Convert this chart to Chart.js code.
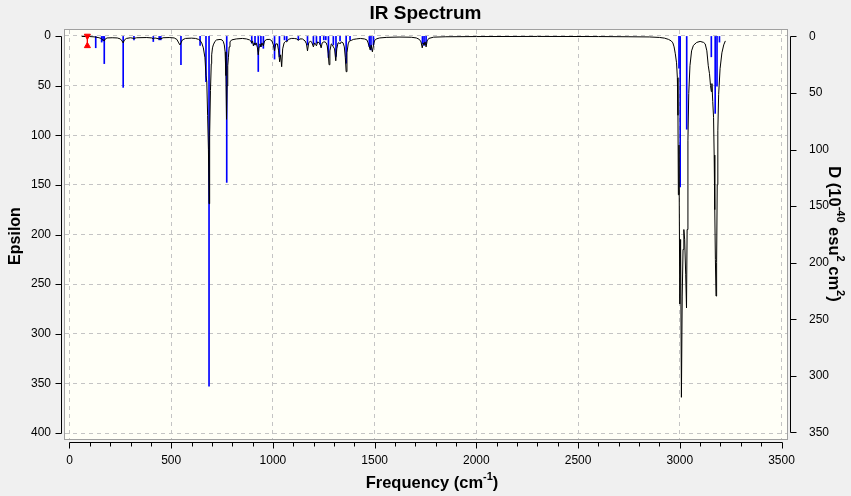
<!DOCTYPE html>
<html>
<head>
<meta charset="utf-8">
<script src="https://cdn.jsdelivr.net/npm/chart.js@4.4.1/dist/chart.umd.min.js"></script>
<style>
  html, body { margin: 0; padding: 0; background: #f0f0f0; }
  canvas { display: block; }
</style>
</head>
<body>
<canvas id="irChart" width="851" height="496"></canvas>
<script>
// stick spectrum: frequency (cm-1) and dipole strength D (10^-40 esu^2 cm^2)
const stickFreq = [129, 158, 165, 171, 264, 317, 412, 441, 449, 548, 642, 671, 686, 773,
  896, 912, 928, 941, 953, 1008, 1032, 1057, 1068, 1125, 1170, 1199, 1214, 1232, 1250, 1260,
  1273, 1297, 1310, 1330, 1360, 1379, 1474, 1482, 1494, 1735, 1743, 1753,
  2996, 3002, 3034, 3155, 3174, 3183, 3195];
const stickD = [10, 5, 4, 24, 45, 3, 4.5, 3, 3, 25, 8, 40, 309, 129,
  6, 7.5, 31, 9, 10.5, 20, 18, 3, 4, 3, 7.5, 7, 6, 7, 3, 3,
  18.6, 7.5, 17.7, 4, 23.6, 3, 9, 12, 7.5, 6.4, 8, 7,
  28, 133, 82, 18, 68, 44, 5];

// broadened spectrum: frequency (cm-1) and epsilon
const curveFreq = [60, 100, 125, 145, 155, 160, 165, 171, 176, 185, 210, 235, 250, 258, 264, 270, 280,
  300, 317, 330, 380, 405, 412, 420, 441, 445, 449, 460, 490, 515, 528, 537, 543, 548, 555, 570,
  600, 620, 635, 642, 650, 658, 666, 671, 675, 679, 683, 686, 688, 690, 693, 697, 699, 703, 707,
  715, 723, 740, 750, 756, 761, 765, 769, 772, 775, 778, 781, 785, 789, 797, 820, 850, 870, 885,
  891, 896, 900, 904, 908, 912, 918, 924, 928, 932, 936, 941, 946, 953, 959, 970, 985, 995, 1002,
  1008, 1014, 1022, 1028, 1033, 1038, 1043, 1048, 1055, 1062, 1068, 1076, 1090, 1105, 1118, 1125,
  1132, 1145, 1158, 1165, 1170, 1176, 1185, 1192, 1199, 1205, 1209, 1214, 1220, 1228, 1233, 1237,
  1242, 1250, 1256, 1262, 1267, 1272, 1276, 1280, 1287, 1292, 1297, 1303, 1309, 1314, 1320, 1326,
  1330, 1336, 1345, 1351, 1356, 1360, 1364, 1370, 1376, 1385, 1395, 1410, 1430, 1450, 1462, 1468,
  1474, 1478, 1483, 1489, 1494, 1499, 1508, 1525, 1560, 1620, 1680, 1705, 1720, 1728, 1734, 1739,
  1743, 1748, 1753, 1758, 1766, 1790, 1850, 2000, 2300, 2600, 2750, 2850, 2900, 2925, 2945, 2958,
  2966, 2972, 2978, 2984, 2988, 2991, 2993, 2996, 3000, 3004, 3008, 3012, 3016, 3020, 3024, 3029,
  3033, 3036, 3040, 3044, 3050, 3058, 3067, 3083, 3100, 3117, 3125, 3133, 3140, 3146, 3151, 3155,
  3158, 3162, 3166, 3169, 3172, 3175, 3178, 3181, 3184, 3187, 3191, 3198, 3207, 3216, 3224];
const curveEps = [0.5, 0.6, 1, 1.8, 2.5, 3.5, 4, 5, 3, 2, 1.8, 2, 3, 5, 7, 4, 2.5,
  1.8, 2.5, 1.8, 1.6, 2, 3, 2, 3, 2.5, 3, 1.8, 1.6, 2, 3.5, 7, 9, 7, 4, 2.5,
  2.2, 2.5, 3.5, 4.5, 7, 12, 22, 40, 46, 80, 114, 169, 135, 100, 55, 28, 19, 12, 9,
  5.5, 4, 3.5, 4, 5.5, 9, 16, 40, 84, 50, 30, 22, 11, 6, 4, 3, 2.5, 3, 4,
  5, 7, 5, 10, 7, 9, 7, 12, 19, 11, 8, 11, 7, 10, 5, 3.5, 3.5, 5, 9,
  15, 8, 8, 15, 26, 19, 31, 13, 7, 5.5, 6, 3.5, 2.5, 2.5, 3, 4.5,
  3, 3, 5, 8, 15, 7, 5, 7, 11, 7, 8, 10, 6, 7, 9, 12,
  7, 6, 6, 7, 10, 18, 29, 15, 8, 9, 11, 13, 25, 13, 7, 7,
  8, 6, 7, 11, 22, 36, 17, 8, 5, 4.5, 3.5, 3, 2.5, 3, 4, 7,
  11, 14, 9, 16, 10, 5, 3, 2, 1.4, 1.1, 1.3, 2, 3.5, 6, 12, 7,
  9, 6, 11, 5, 2.5, 1.2, 0.8, 0.6, 0.5, 0.6, 0.8, 1, 1.5, 2.2, 3.5, 5,
  7, 11, 18, 27, 42, 80, 160, 110, 270, 205, 364, 262, 215, 195, 205, 240,
  274, 195, 105, 58, 30, 15, 9.5, 6.5, 5.5, 6.5, 8, 15, 30, 38, 50, 56,
  48, 66, 82, 120, 175, 225, 262, 228, 150, 95, 59, 33, 17, 9, 5];

// axis tick values
const freqTicks = [0, 500, 1000, 1500, 2000, 2500, 3000, 3500];
const epsTicks = [0, 50, 100, 150, 200, 250, 300, 350, 400];
const dTicks = [0, 50, 100, 150, 200, 250, 300, 350];

// selected-peak marker
const markerFreq = 88;
const markerEps = [0, 10];

const chartTitle = 'IR Spectrum';
const xTitle = [['Frequency (cm', false], ['-1', true], [')', false]];
const yTitle = [['Epsilon', false]];
const y2Title = [['D (10', false], ['-40', true], [' esu', false], ['2', true], [' cm', false], ['2', true], [')', false]];

const FONT = "'Liberation Sans', Arial, sans-serif";
Chart.defaults.font.family = FONT;
Chart.defaults.color = '#000';

function drawRich(ctx, parts, cx, cy, angle, size) {
  const main = 'bold ' + size + 'px ' + FONT;
  const sup = 'bold ' + Math.round(size * 0.65) + 'px ' + FONT;
  ctx.save();
  ctx.translate(cx, cy);
  ctx.rotate(angle);
  ctx.textBaseline = 'middle';
  ctx.fillStyle = '#000';
  let total = 0;
  parts.forEach(p => { ctx.font = p[1] ? sup : main; total += ctx.measureText(p[0]).width; });
  let px = -total / 2;
  parts.forEach(p => {
    ctx.font = p[1] ? sup : main;
    ctx.fillText(p[0], px, p[1] ? -size * 0.38 : 0);
    px += ctx.measureText(p[0]).width;
  });
  ctx.restore();
}

const setTicks = values => scale => { scale.ticks = values.map(v => ({ value: v })); };

const frame = {
  id: 'frame',
  beforeDraw(chart) {
    const { ctx, chartArea: a } = chart;
    ctx.save();
    ctx.fillStyle = '#f0f0f0';
    ctx.fillRect(0, 0, chart.width, chart.height);
    ctx.fillStyle = '#fffff7';
    ctx.fillRect(a.left, a.top, a.right - a.left, a.bottom - a.top);
    ctx.restore();
  },
  afterDraw(chart) {
    const { ctx, chartArea: a, scales } = chart;
    const { x, y, yD } = scales;
    ctx.save();
    // plot box
    ctx.strokeStyle = '#a0a0a0';
    ctx.lineWidth = 1;
    ctx.strokeRect(a.left - 0.5, a.top - 0.5, a.right - a.left + 1, a.bottom - a.top + 1);

    ctx.strokeStyle = '#000';
    ctx.beginPath();
    // left axis
    const lx = Math.round(a.left) - 3.5;
    const yt = y.ticks;
    ctx.moveTo(lx, Math.round(y.getPixelForValue(yt[0].value)) + 0.5);
    ctx.lineTo(lx, Math.round(y.getPixelForValue(yt[yt.length - 1].value)) + 0.5);
    yt.forEach(t => {
      const py = Math.round(y.getPixelForValue(t.value)) + 0.5;
      ctx.moveTo(lx, py); ctx.lineTo(lx - 6, py);
    });
    // right axis
    const rx = Math.round(a.right) + 3.5;
    const dt = yD.ticks;
    ctx.moveTo(rx, Math.round(yD.getPixelForValue(dt[0].value)) + 0.5);
    ctx.lineTo(rx, Math.round(yD.getPixelForValue(dt[dt.length - 1].value)) + 0.5);
    dt.forEach(t => {
      const py = Math.round(yD.getPixelForValue(t.value)) + 0.5;
      ctx.moveTo(rx, py); ctx.lineTo(rx + 6, py);
    });
    // bottom axis with minor ticks
    const by = Math.round(a.bottom) + 3.5;
    const xt = x.ticks;
    const x0 = xt[0].value, x1 = xt[xt.length - 1].value;
    ctx.moveTo(Math.round(x.getPixelForValue(x0)) + 0.5, by);
    ctx.lineTo(Math.round(x.getPixelForValue(x1)) + 0.5, by);
    for (let v = x0; v <= x1; v += 100) {
      const px = Math.round(x.getPixelForValue(v)) + 0.5;
      ctx.moveTo(px, by); ctx.lineTo(px, by + (v % 500 === 0 ? 6 : 4));
    }
    ctx.stroke();
    ctx.restore();

    drawRich(ctx, yTitle, 16, 236, -Math.PI / 2, 16);
    drawRich(ctx, y2Title, 834, 234, Math.PI / 2, 16.5);
    drawRich(ctx, xTitle, 432, 483, 0, 16.5);
  }
};

const tickFont = { family: FONT, size: 12 };

new Chart(document.getElementById('irChart').getContext('2d'), {
  type: 'line',
  data: {
    datasets: [
      {
        type: 'line',
        label: 'marker',
        data: markerEps.map(e => ({ x: markerFreq, y: e })),
        yAxisID: 'y',
        borderColor: '#ff0000',
        borderWidth: 1,
        pointStyle: 'triangle',
        pointRadius: 3.5,
        pointRotation: [180, 0],
        pointBackgroundColor: '#ff0000',
        pointBorderColor: '#ff0000',
        order: -1
      },
      {
        type: 'line',
        label: 'Epsilon',
        data: curveFreq.map((f, i) => ({ x: f, y: curveEps[i] })),
        yAxisID: 'y',
        borderColor: '#000000',
        borderWidth: 1,
        pointRadius: 0,
        tension: 0,
        fill: false,
        order: 0
      },
      {
        type: 'bar',
        label: 'D',
        data: stickFreq.map((f, i) => ({ x: f, y: stickD[i] })),
        yAxisID: 'yD',
        backgroundColor: '#0000ff',
        borderWidth: 0,
        barThickness: 1,
        grouped: false,
        order: 1
      }
    ]
  },
  options: {
    responsive: false,
    animation: false,
    devicePixelRatio: 1,
    layout: { padding: 0 },
    plugins: {
      legend: { display: false },
      tooltip: { enabled: false },
      title: {
        display: true,
        text: chartTitle,
        color: '#000',
        font: { family: FONT, size: 19, weight: 'bold' },
        padding: { top: 2, bottom: 5.2 }
      }
    },
    scales: {
      x: {
        type: 'linear',
        position: 'bottom',
        min: -22,
        max: 3527,
        offset: false,
        afterBuildTicks: setTicks(freqTicks),
        ticks: {
          padding: 14, autoSkip: false, maxRotation: 0,
          font: tickFont, color: '#000', callback: v => String(v)
        },
        grid: { color: '#c4c4c4', drawTicks: false, offset: false },
        border: { display: false, dash: [4, 4] },
        afterFit(s) { s.height = 57; }
      },
      y: {
        type: 'linear',
        position: 'left',
        reverse: true,
        min: -6,
        max: 406,
        afterBuildTicks: setTicks(epsTicks),
        ticks: { padding: 14, autoSkip: false, font: tickFont, color: '#000', callback: v => String(v) },
        grid: { color: '#c4c4c4', drawTicks: false },
        border: { display: false, dash: [4, 4] },
        afterFit(s) { s.width = 65; }
      },
      yD: {
        type: 'linear',
        position: 'right',
        reverse: true,
        min: -5.7,
        max: 355.8,
        afterBuildTicks: setTicks(dTicks),
        ticks: { padding: 14, autoSkip: false, font: tickFont, color: '#000', callback: v => String(v) },
        grid: { display: false },
        border: { display: false },
        afterFit(s) { s.width = 64; }
      }
    }
  },
  plugins: [frame]
});
</script>
</body>
</html>
